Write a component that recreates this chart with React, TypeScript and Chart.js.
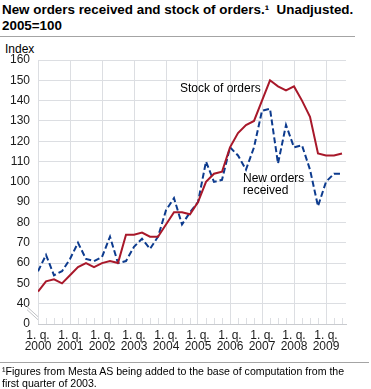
import React, { useEffect, useRef } from "react";
import { Chart, registerables } from "chart.js";

Chart.register(...registerables);

// Year labels for the first quarter of each year
const yearLabels = ["2000", "2001", "2002", "2003", "2004", "2005", "2006", "2007", "2008", "2009"];
const quarterPrefix = "1. q.";

// Quarterly values, 2000 Q1 .. 2009 Q3 (index 2005=100)
const stockOfOrders = [
  46, 51, 52, 50, 54, 58, 60, 58, 60, 61, 60, 74, 74, 75, 73, 73, 79, 85, 85, 84,
  90, 100, 104, 105, 117, 124, 128, 130, 140, 150, 147, 145, 147, 140, 132, 114, 113, 113, 114,
];
const newOrdersReceived = [
  56, 64, 54, 56, 62, 70, 62, 61, 63, 73, 60, 61, 68, 72, 67, 73, 86, 92, 79, 85,
  90, 110, 100, 101, 117, 113, 106, 117, 135, 136, 109, 128, 117, 118, 106, 88, 100, 104, 104,
];

// y ticks: the axis is broken below 40; the lowest tick stands for 0
const yTickValues = [30, 40, 50, 60, 70, 80, 90, 100, 110, 120, 130, 140, 150, 160];
const yTickLabels = ["0", "40", "50", "60", "70", "80", "90", "100", "110", "120", "130", "140", "150", "160"];

const FONT = "'Liberation Sans', Arial, Helvetica, sans-serif";
const GRID = "#dcdee2";
const RED = "#a8182a";
const BLUE = "#0d3b8e";

const decorPlugin = {
  id: "decor",
  afterDraw(chart: any) {
    const { ctx, chartArea, scales } = chart;
    const xs = scales.x;
    ctx.save();
    // minor quarter ticks
    ctx.strokeStyle = GRID;
    ctx.lineWidth = 1;
    for (let i = 1; i < stockOfOrders.length; i++) {
      if (i % 4 === 0) continue;
      const px = Math.round(xs.getPixelForValue(i)) + 0.5;
      ctx.beginPath();
      ctx.moveTo(px, chartArea.bottom - 6);
      ctx.lineTo(px, chartArea.bottom);
      ctx.stroke();
    }
    // axis break marks
    const y40 = scales.y.getPixelForValue(40);
    const l = chartArea.left;
    ctx.strokeStyle = "#bfc1c5";
    ctx.beginPath();
    ctx.moveTo(l - 11, y40 + 3);
    ctx.lineTo(l, y40 + 13);
    ctx.moveTo(l - 11, y40 + 6);
    ctx.lineTo(l, y40 + 16);
    ctx.stroke();
    // annotations
    ctx.fillStyle = "#000";
    ctx.font = `12px ${FONT}`;
    ctx.textBaseline = "alphabetic";
    ctx.textAlign = "left";
    ctx.fillText("Stock of orders", 180, 92);
    ctx.fillText("New orders", 243, 182);
    ctx.fillText("received", 243, 193.5);
    ctx.restore();
  },
};

export default function App() {
  const ref = useRef<HTMLCanvasElement | null>(null);

  useEffect(() => {
    if (!ref.current) return;
    Chart.defaults.font.family = FONT;
    const chart = new Chart(ref.current, {
      type: "line",
      data: {
        datasets: [
          {
            label: "Stock of orders",
            data: stockOfOrders.map((v, i) => ({ x: i, y: v })),
            borderColor: RED,
            borderWidth: 2,
            pointRadius: 0,
            tension: 0,
            fill: false,
          },
          {
            label: "New orders received",
            data: newOrdersReceived.map((v, i) => ({ x: i, y: v })),
            borderColor: BLUE,
            borderWidth: 2,
            borderDash: [6, 3],
            pointRadius: 0,
            tension: 0,
            fill: false,
          },
        ],
      },
      options: {
        animation: false,
        responsive: false,
        maintainAspectRatio: false,
        layout: { padding: { top: 60, right: 25, left: 0, bottom: 0 } },
        plugins: {
          legend: { display: false },
          tooltip: { enabled: false },
          title: { display: false },
        },
        scales: {
          x: {
            type: "linear",
            min: 0,
            max: stockOfOrders.length - 0.5,
            afterBuildTicks: (scale: any) => {
              scale.ticks = yearLabels.map((_, k) => ({ value: k * 4 }));
            },
            afterFit: (scale: any) => {
              scale.height = 65;
            },
            ticks: {
              autoSkip: false,
              maxRotation: 0,
              padding: 6,
              color: "#1a1a1a",
              font: { size: 12, lineHeight: 0.95 },
              callback: (v: any) => [quarterPrefix, yearLabels[Math.round(Number(v) / 4)]],
            },
            grid: { color: GRID, drawTicks: false, lineWidth: 1 },
            border: { display: true, color: "#c9cbcf" },
          },
          y: {
            type: "linear",
            min: 30,
            max: 160,
            afterBuildTicks: (scale: any) => {
              scale.ticks = yTickValues.map((v) => ({ value: v }));
            },
            afterFit: (scale: any) => {
              scale.width = 38;
            },
            ticks: {
              padding: 8,
              color: "#1a1a1a",
              font: { size: 12 },
              callback: (v: any) => yTickLabels[yTickValues.indexOf(Number(v))],
            },
            grid: {
              drawTicks: false,
              color: (c: any) => (c.tick && c.tick.value === 30 ? "rgba(0,0,0,0)" : GRID),
            },
            border: { display: false },
          },
        },
      },
      plugins: [decorPlugin],
    });
    return () => chart.destroy();
  }, []);

  return (
    <div style={{ position: "absolute", left: 0, top: 0, width: 371, height: 389, background: "#fff", fontFamily: FONT, color: "#000" }}>
      <div style={{ position: "absolute", left: 2, top: 2, fontWeight: "bold", fontSize: 13.4, lineHeight: "16px", whiteSpace: "nowrap" }}>
        New orders received and stock of orders.¹&nbsp; Unadjusted.
        <br />
        2005=100
      </div>
      <div style={{ position: "absolute", left: 0, top: 36, width: 355, height: 1, background: "#a4a4a4" }} />
      <div style={{ position: "absolute", left: 5, top: 42, fontSize: 12, lineHeight: "14px" }}>Index</div>
      <canvas ref={ref} width={371} height={389} style={{ position: "absolute", left: 0, top: 0, width: 371, height: 389 }} />
      <div style={{ position: "absolute", left: 0, top: 362, width: 369, height: 1, background: "#a4a4a4" }} />
      <div style={{ position: "absolute", left: 2, top: 365, fontSize: 10.6, lineHeight: "12px", whiteSpace: "nowrap" }}>
        ¹Figures from Mesta AS being added to the base of computation from the
        <br />
        first quarter of 2003.
      </div>
    </div>
  );
}
